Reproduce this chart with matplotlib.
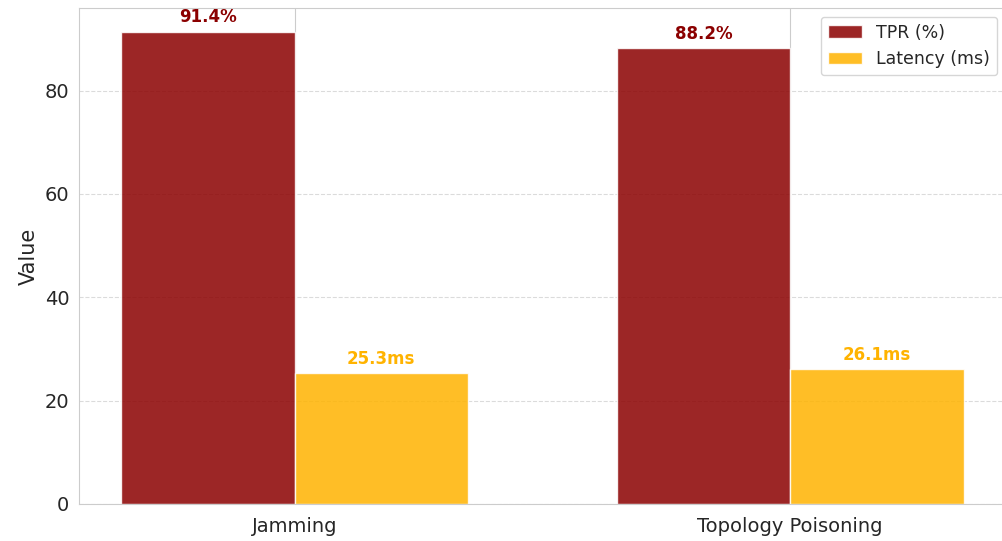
import numpy as np
import matplotlib
matplotlib.use("Agg")
import matplotlib.pyplot as plt
import seaborn as sns

sns.set_style("whitegrid")
plt.rcParams['font.family'] = ['DejaVu Sans']

attacks = ["Jamming", "Topology Poisoning"]
tpr = [91.4, 88.2]
latency = [25.3, 26.1]

fig = plt.figure(figsize=(10.02, 5.41), dpi=100)
ax = fig.add_axes([0.0788, 0.0684, 0.925, 0.9168])

x = np.arange(len(attacks))
w = 0.35
b1 = ax.bar(x - w / 2, tpr, w, color="darkred", alpha=0.85, edgecolor="white", label="TPR (%)")
b2 = ax.bar(x + w / 2, latency, w, color="#FFB300", alpha=0.85, edgecolor="white", label="Latency (ms)")

# value labels above each bar
for r, v in zip(b1, tpr):
    ax.text(r.get_x() + r.get_width() / 2, v + 1, f"{v}%", ha="center", va="bottom",
            fontsize=12, fontweight="bold", color="darkred")
for r, v in zip(b2, latency):
    ax.text(r.get_x() + r.get_width() / 2, v + 1, f"{v}ms", ha="center", va="bottom",
            fontsize=12, fontweight="bold", color="#FFB300")

ax.set_xticks(x)
ax.set_xticklabels(attacks, fontsize=14)
ax.tick_params(axis="x", pad=6)
ax.tick_params(axis="y", labelsize=14)
ax.set_ylabel("Value", fontsize=15)
ax.set_ylim(0, max(tpr) * 1.05)
ax.grid(axis="y", linestyle="--", alpha=0.7)
ax.legend(loc="upper right", fontsize=12.5)

fig.savefig("out.png", dpi=100)
